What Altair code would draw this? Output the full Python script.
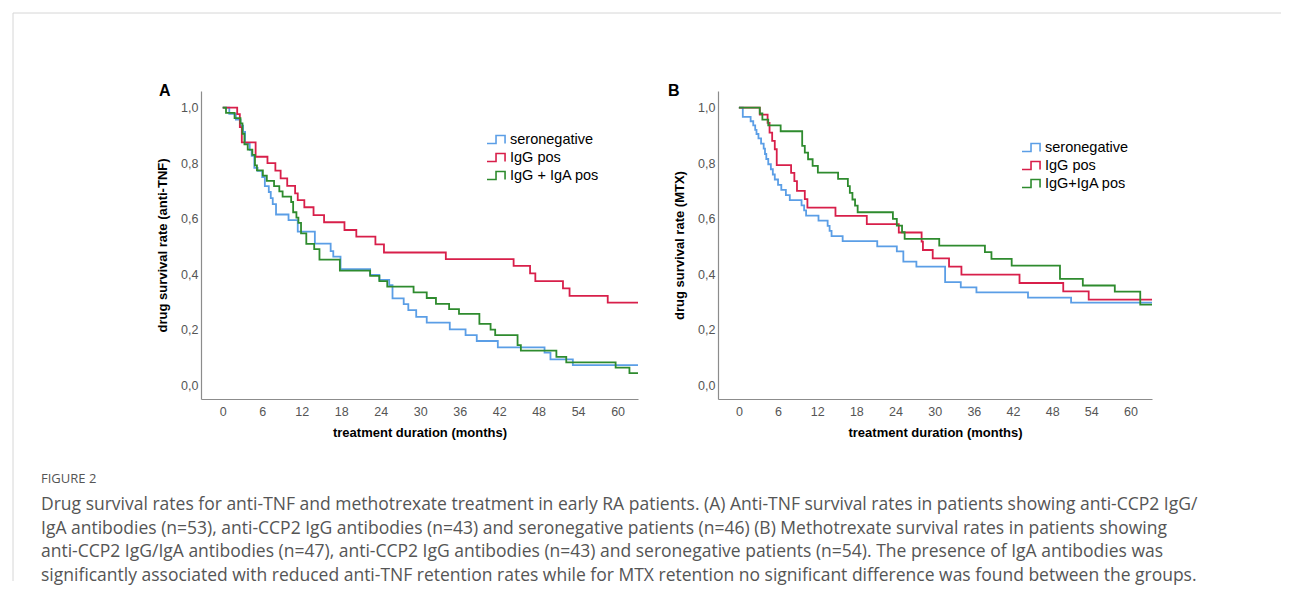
import altair as alt
import pandas as pd

# ---------------- data ----------------
# Panel A: anti-TNF
A_sero_t = [0, 1.0, 2.0, 2.7, 3.1, 3.4, 4.1, 4.4, 4.8, 5.3, 6.0, 6.4, 7.0, 7.3, 7.6, 8.1, 10.0, 11.4, 14.0, 16.4,
            16.8, 17.9, 22.4, 23.8, 25.3, 25.8, 27.5, 28.2, 29.4, 31.0, 34.5, 36.9, 38.6, 41.8, 48.9, 49.8, 53.2, 63.1]
A_sero_s = [1.0, 0.978, 0.957, 0.935, 0.913, 0.87, 0.848, 0.826, 0.783, 0.772, 0.75, 0.717, 0.696, 0.674, 0.652,
            0.615, 0.595, 0.553, 0.51, 0.483, 0.463, 0.418, 0.397, 0.379, 0.36, 0.313, 0.292, 0.27, 0.246, 0.225,
            0.201, 0.18, 0.159, 0.136, 0.117, 0.093, 0.072, 0.072]

A_igg_t = [0, 2.2, 2.6, 2.9, 5.0, 6.8, 8.0, 8.8, 9.8, 11.0, 11.4, 12.4, 13.8, 15.4, 18.5, 20.3, 23.2, 24.5, 33.9,
           44.2, 46.7, 47.5, 51.7, 52.7, 58.5, 63.1]
A_igg_s = [1.0, 0.977, 0.93, 0.875, 0.823, 0.80, 0.773, 0.745, 0.718, 0.691, 0.667, 0.641, 0.613, 0.587, 0.559,
           0.535, 0.507, 0.478, 0.454, 0.430, 0.403, 0.375, 0.349, 0.322, 0.297, 0.297]

A_iga_t = [0, 0.5, 1.8, 2.7, 3.0, 3.3, 3.8, 4.5, 4.9, 5.2, 6.1, 6.7, 7.8, 8.6, 9.1, 10.4, 10.7, 11.2, 11.5, 11.9,
           12.7, 13.9, 14.7, 17.8, 22.4, 23.8, 25.0, 29.0, 31.0, 32.4, 34.4, 35.9, 39.0, 40.7, 41.4, 44.8, 45.3,
           50.7, 52.2, 59.7, 61.8, 63.1]
A_iga_s = [1.0, 0.981, 0.962, 0.943, 0.906, 0.868, 0.849, 0.83, 0.792, 0.774, 0.755, 0.736, 0.717, 0.698, 0.679,
           0.66, 0.623, 0.604, 0.585, 0.547, 0.509, 0.49, 0.452, 0.413, 0.394, 0.375, 0.355, 0.334, 0.314, 0.293,
           0.274, 0.257, 0.221, 0.2, 0.18, 0.144, 0.124, 0.102, 0.082, 0.063, 0.043, 0.043]

# Panel B: methotrexate
B_sero_t = [0, 0.6, 1.8, 2.2, 2.5, 2.7, 3.0, 3.4, 3.8, 4.0, 4.2, 4.5, 4.9, 5.2, 5.5, 6.0, 6.5, 7.2, 7.8, 9.6,
            10.0, 10.3, 12.2, 13.6, 13.9, 14.2, 15.9, 21.2, 24.2, 25.2, 27.2, 31.6, 34.0, 36.4, 44.3, 50.9, 63.3]
B_sero_s = [1.0, 0.967, 0.951, 0.936, 0.92, 0.905, 0.889, 0.87, 0.852, 0.833, 0.815, 0.796, 0.778, 0.759, 0.741,
            0.722, 0.704, 0.685, 0.667, 0.648, 0.63, 0.611, 0.593, 0.574, 0.556, 0.537, 0.519, 0.5, 0.482, 0.445,
            0.427, 0.371, 0.352, 0.334, 0.315, 0.297, 0.297]

B_igg_t = [0, 3.2, 4.4, 4.7, 5.1, 5.5, 5.8, 8.0, 8.5, 8.9, 10.1, 10.5, 14.8, 19.6, 24.5, 28.0, 28.2, 29.7, 32.2,
           34.1, 43.0, 49.7, 53.6, 63.3]
B_igg_s = [1.0, 0.975, 0.945, 0.91, 0.88, 0.85, 0.793, 0.765, 0.735, 0.70, 0.67, 0.64, 0.61, 0.58, 0.55, 0.517,
           0.487, 0.457, 0.427, 0.398, 0.368, 0.338, 0.308, 0.308]

B_iga_t = [0, 3.2, 3.6, 4.5, 6.4, 9.7, 10.1, 10.6, 11.3, 12.1, 15.2, 16.7, 17.0, 17.4, 17.8, 18.2, 23.6, 24.2,
           25.0, 25.4, 30.7, 37.7, 38.7, 41.8, 49.2, 52.7, 57.6, 61.5, 63.3]
B_iga_s = [1.0, 0.979, 0.957, 0.936, 0.915, 0.862, 0.838, 0.814, 0.79, 0.766, 0.743, 0.717, 0.693, 0.669, 0.647,
           0.623, 0.599, 0.575, 0.551, 0.527, 0.503, 0.479, 0.455, 0.431, 0.383, 0.359, 0.337, 0.29, 0.29]

A_groups = ["seronegative", "IgG pos", "IgG + IgA pos"]
B_groups = ["seronegative", "IgG pos", "IgG+IgA pos"]
COLORS = ["#5b9ee6", "#d81f4a", "#2e8b2e"]

X_TICKS = [0, 6, 12, 18, 24, 30, 36, 42, 48, 54, 60]
Y_TICKS = [0.0, 0.2, 0.4, 0.6, 0.8, 1.0]

X_TITLE = "treatment duration (months)"
A_YTITLE = "drug survival rate (anti-TNF)"
B_YTITLE = "drug survival rate (MTX)"

FIG_LABEL = "FIGURE 2"
CAPTION = ("Drug survival rates for anti-TNF and methotrexate treatment in early RA patients. (A) Anti-TNF survival rates in patients showing anti-CCP2 IgG/\n"
           "IgA antibodies (n=53), anti-CCP2 IgG antibodies (n=43) and seronegative patients (n=46) (B) Methotrexate survival rates in patients showing\n"
           "anti-CCP2 IgG/IgA antibodies (n=47), anti-CCP2 IgG antibodies (n=43) and seronegative patients (n=54). The presence of IgA antibodies was\n"
           "significantly associated with reduced anti-TNF retention rates while for MTX retention no significant difference was found between the groups.")


def build_df(groups, ts, ss):
    rows = []
    for g, t, s in zip(groups, ts, ss):
        for a, b in zip(t, s):
            rows.append({"group": g, "t": a, "s": b})
    return pd.DataFrame(rows)


dfA = build_df(A_groups, [A_sero_t, A_igg_t, A_iga_t], [A_sero_s, A_igg_s, A_iga_s])
dfB = build_df(B_groups, [B_sero_t, B_igg_t, B_iga_t], [B_sero_s, B_igg_s, B_iga_s])

LEGEND_PATH = "M-1,0.42L-0.05,0.42L-0.05,-0.42L0.9,-0.42L0.9,0.42"
Y_LABELS = "replace(format(datum.value, '.1f'), '.', ',')"
FONT = "Liberation Sans"
one = pd.DataFrame({"k": [0]})


def panel(df, groups, ytitle, xdomain, lx, ly, letter, letter_x):
    lines = alt.Chart(df).mark_line(interpolate="step-after", strokeWidth=1.8).encode(
        x=alt.X("t:Q", scale=alt.Scale(domain=xdomain, nice=False, zero=False),
                axis=alt.Axis(values=X_TICKS, title=X_TITLE, format="d",
                              labelPadding=6, titlePadding=9)),
        y=alt.Y("s:Q", scale=alt.Scale(domain=[-0.05, 1.06], nice=False, zero=False),
                axis=alt.Axis(values=Y_TICKS, title=ytitle, labelExpr=Y_LABELS,
                              labelPadding=3, titlePadding=11)),
        color=alt.Color("group:N", scale=alt.Scale(domain=groups, range=COLORS),
                        legend=alt.Legend(title=None, orient="none", legendX=lx, legendY=ly,
                                          symbolType=LEGEND_PATH, symbolSize=361,
                                          symbolStrokeWidth=1.6, symbolFillColor="transparent",
                                          labelFontSize=14.5, labelFont=FONT, labelColor="#000000",
                                          labelOffset=3, rowPadding=0, padding=0)),
        detail="group:N",
    )
    letter_mark = alt.Chart(pd.DataFrame({"txt": [letter]})).mark_text(
        align="left", baseline="alphabetic", fontSize=16, fontWeight="bold", font=FONT, color="#000000"
    ).encode(x=alt.value(letter_x), y=alt.value(5), text="txt:N")
    return [lines, letter_mark]


# caption block and page frame, positioned relative to panel A's plot area
fig_label = alt.Chart(one).mark_text(
    align="left", baseline="middle", fontSize=13, font="Open Sans", color="#555555"
).encode(x=alt.value(-160), y=alt.value(388), text=alt.value(FIG_LABEL))
caption = alt.Chart(one).mark_text(
    align="left", baseline="top", fontSize=17.5, font="Open Sans", color="#555555",
    lineBreak="\n", lineHeight=23.5
).encode(x=alt.value(-160), y=alt.value(405), text=alt.value(CAPTION))
frame_left = alt.Chart(one).mark_rule(color="#d6d6d6", strokeWidth=1).encode(
    x=alt.value(-188), y=alt.value(-78), y2=alt.value(490))
frame_top = alt.Chart(one).mark_rule(color="#d6d6d6", strokeWidth=1).encode(
    x=alt.value(-188), x2=alt.value(1080), y=alt.value(-78))

chartA = alt.layer(*panel(dfA, A_groups, A_YTITLE, [-3.3, 63.1], 285, 38, "A", -42),
                   frame_left, frame_top, fig_label, caption).properties(width=437, height=308)
chartB = alt.layer(*panel(dfB, B_groups, B_YTITLE, [-3.2, 63.3], 303, 46, "B", -50)
                   ).properties(width=434, height=308)

chart = alt.hconcat(chartA, chartB, spacing=80, bounds="flush").resolve_scale(
    color="independent", x="independent", y="independent"
).resolve_legend(color="independent").properties(
    padding={"left": 4, "top": 4, "right": 0, "bottom": 0},
    background="white",
).configure_view(stroke="transparent").configure_axis(
    domainColor="#8c8c8c", domainWidth=1.2, ticks=False, grid=False,
    labelFont=FONT, labelFontSize=12.5, labelColor="#555555",
    titleFont=FONT, titleFontSize=13, titleFontWeight="bold", titleColor="#000000",
)

chart.save("out.html", embed_options={"renderer": "svg", "actions": False})
